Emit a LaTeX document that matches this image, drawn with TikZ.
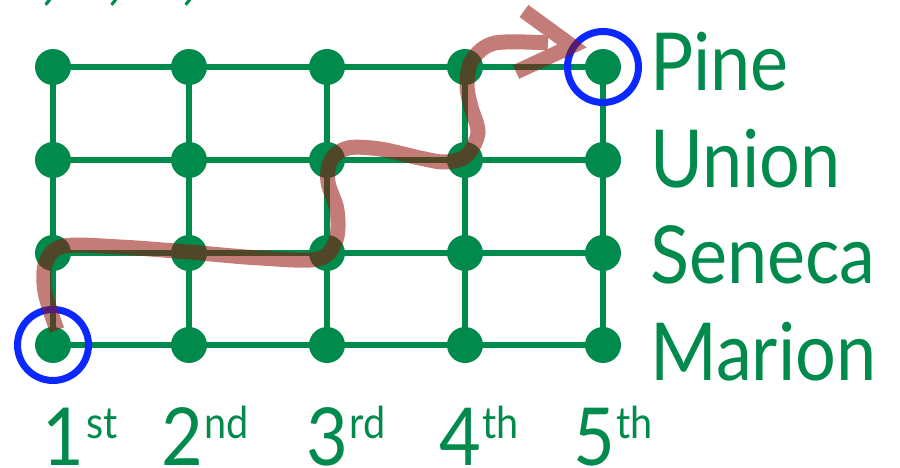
\documentclass[tikz,border=0pt]{standalone}
\usepackage{graphicx}
\usepackage{fontspec}
\setmainfont{Lato}
\definecolor{gr}{RGB}{0,138,76}
\definecolor{bl}{RGB}{10,40,255}
\definecolor{rt}{RGB}{147,17,11}
\newcommand{\narrowtext}[1]{\scalebox{0.9}[1]{#1}}
\newcommand{\ordsup}[1]{\kern2pt\raisebox{27pt}{\fontsize{44}{44}\selectfont #1}}
\begin{document}
\begin{tikzpicture}[x=1pt,y=-1pt,
  gridline/.style={gr, line width=6pt},
  dot/.style={circle, fill=gr, minimum size=36pt, inner sep=0pt},
  ring/.style={circle, draw=bl, line width=7pt, minimum size=71pt, inner sep=0pt},
  street/.style={text=gr, anchor=base west, inner sep=0pt, font=\fontsize{80}{80}\selectfont},
  avenue/.style={text=gr, anchor=base, inner sep=0pt, text depth=0pt, font=\fontsize{80}{80}\selectfont},
  cut/.style={text=gr, anchor=base west, inner sep=0pt, font=\fontsize{80}{80}\selectfont},
  route/.style={draw=rt, line width=15pt, line cap=butt, line join=round}]
\useasboundingbox (0,0) rectangle (900,468);
% partial text cut off at the top
\node[cut] (k1) at (40,-4) {,};
\node[cut] (k2) at (106,-4) {,};
\node[cut] (k3) at (180,-4) {,};
% grid
\foreach \c/\x in {1/53,2/189,3/327,4/465,5/603}
  \foreach \r/\y in {1/67,2/160,3/253,4/345}
    \coordinate (p\c\r) at (\x,\y);
\foreach \r in {1,2,3,4} \draw[gridline] (p1\r) -- (p5\r);
\foreach \c in {1,2,3,4,5} \draw[gridline] (p\c1) -- (p\c4);
\foreach \c in {1,2,3,4,5}
  \foreach \r in {1,2,3,4}
    \node[dot] (d\c\r) at (p\c\r) {};
% start and goal
\node[ring] (start) at (p14) {};
\node[ring] (goal) at (p51) {};
% route
\begin{scope}[transparency group, opacity=0.55]
\draw[route] plot[smooth, tension=0.55] coordinates {(57,330) (45,292) (46,262) (64,246) (120,247) (188,252) (260,258) (318,259) (336,240) (337,210) (328,182) (331,160) (348,148) (380,149) (420,158) (445,162) (466,156) (478,133) (471,107) (467,85) (472,60) (495,43) (548,43)};
\draw[route, line join=miter] (524,11) -- (572,46) -- (516,72);
\end{scope}
% street names
\node[street] (pine) at (650,91) {\narrowtext{Pine}};
\node[street] (union) at (650,187) {\narrowtext{Union}};
\node[street] (seneca) at (650,283) {\narrowtext{Seneca}};
\node[street] (marion) at (650,380) {\narrowtext{Marion}};
% avenues
\node[avenue] (a1) at (80,465) {\narrowtext{1\ordsup{st}}};
\node[avenue] (a2) at (205,465) {\narrowtext{2\ordsup{nd}}};
\node[avenue] (a3) at (346,465) {\narrowtext{3\ordsup{rd}}};
\node[avenue] (a4) at (479,465) {\narrowtext{4\ordsup{th}}};
\node[avenue] (a5) at (613,465) {\narrowtext{5\ordsup{th}}};
\end{tikzpicture}
\end{document}
